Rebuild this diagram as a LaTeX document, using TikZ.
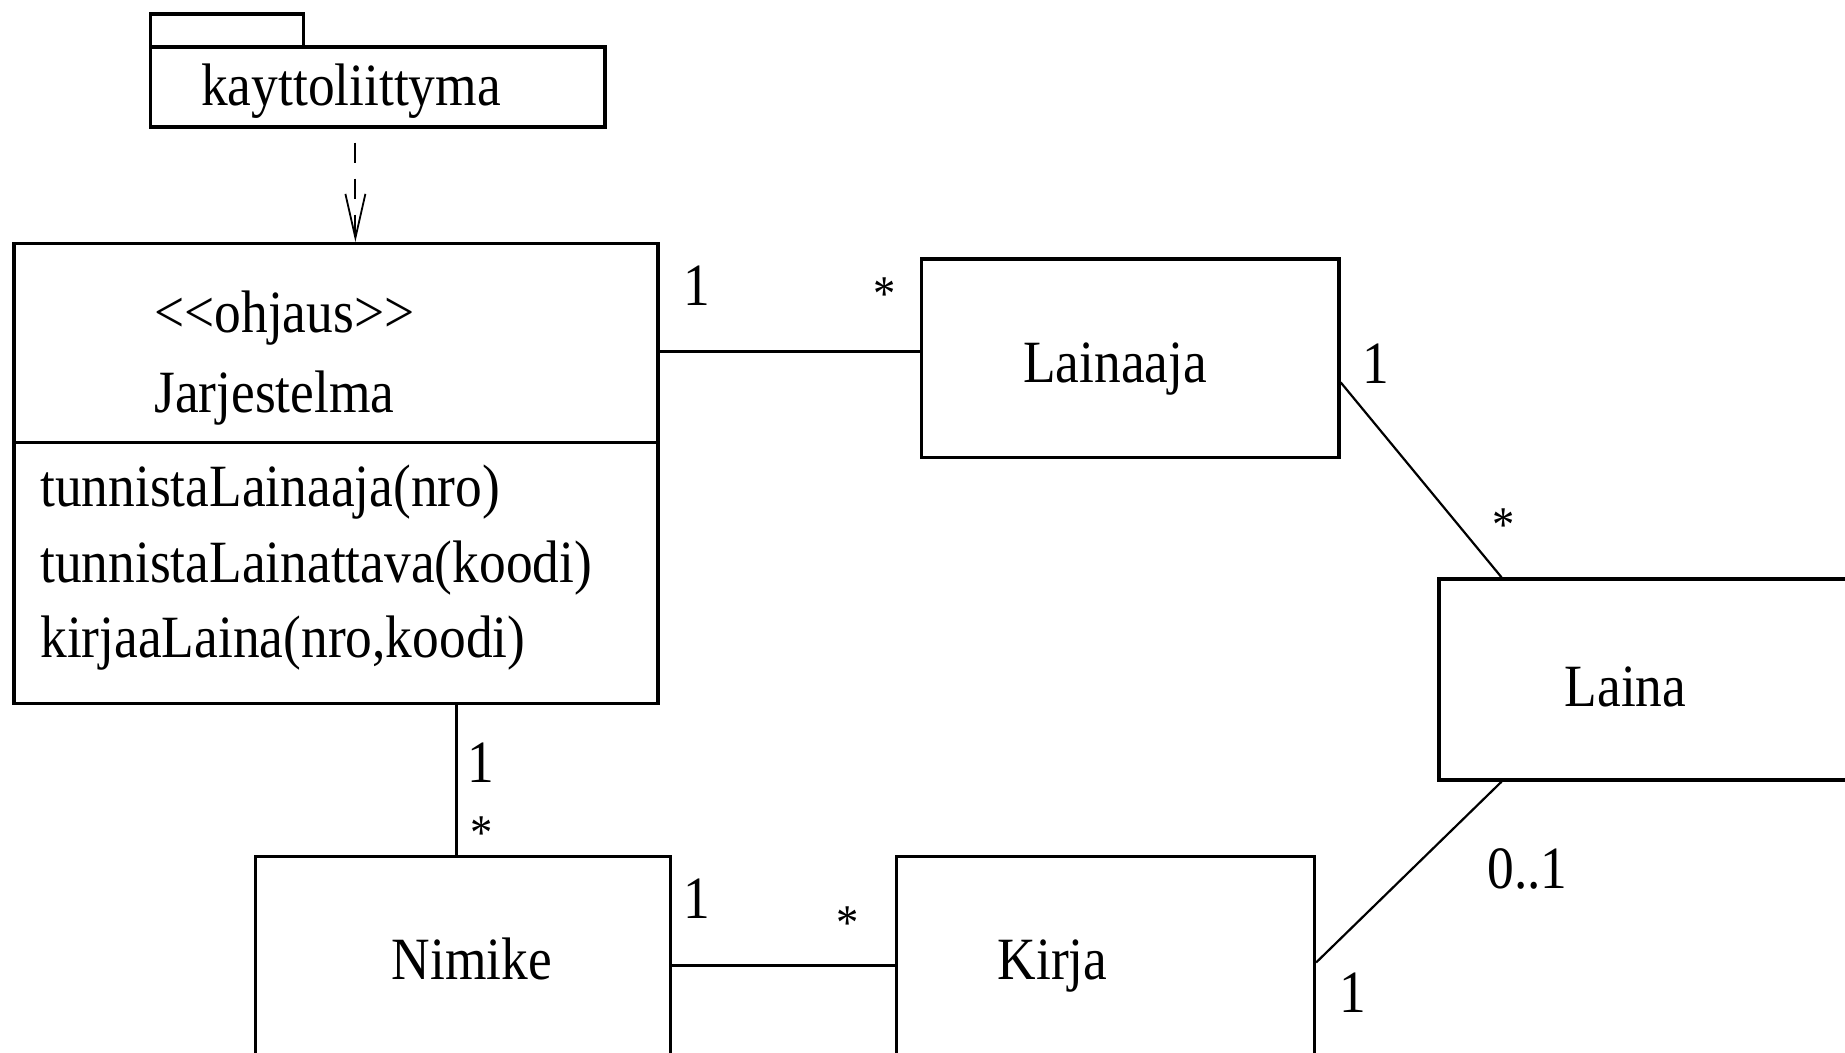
\documentclass[tikz,border=0pt]{standalone}
\usepackage{fontspec}
\setmainfont{Liberation Serif}[FakeStretch=0.89]
\usetikzlibrary{arrows.meta}
\begin{document}
\begin{tikzpicture}[x=0.5pt,y=-0.5pt,
  txt/.style={inner sep=0pt, anchor=base, font=\fontsize{30pt}{36pt}\selectfont},
  txtl/.style={txt, anchor=base west},
  star/.style={txt, font=\fontsize{25pt}{30pt}\selectfont},
  box/.style={draw, line width=1.7pt, rectangle, inner sep=0pt},
  assoc/.style={line width=1.5pt},
  diag/.style={line width=1.1pt},
  dep/.style={line width=1pt, dash pattern=on 10pt off 8pt,
    -{Straight Barb[length=22pt,width=10pt,line width=0.9pt]}},
]
\useasboundingbox (0,0) rectangle (1845,1053);
\clip (0,0) rectangle (1845,1053);

% package kayttoliittyma
\node[box, minimum width=76.5pt, minimum height=16.5pt] (pkgtab) at (227.1,30.5) {};
\node[box, minimum width=227.2pt, minimum height=40pt] (pkg) at (377.8,87) {};
\node[txt] (pkgname) at (351,106) {kayttoliittyma};

% control class Jarjestelma
\node[box, minimum width=322pt, minimum height=230pt] (jar) at (336,473.65) {};
\coordinate (jdiv) at (0,442.4);
\draw[line width=1.7pt] (jar.west |- jdiv) -- (jar.east |- jdiv);
\node[txtl] (stereo) at (154,333) {<{}<ohjaus>{}>};
\node[txtl] (jarname) at (154,412) {Jarjestelma};
\node[txtl] (op1) at (40,506) {tunnistaLainaaja(nro)};
\node[txtl] (op2) at (40,582) {tunnistaLainattava(koodi)};
\node[txtl] (op3) at (40,657) {kirjaaLaina(nro,koodi)};

% other classes
\node[box, minimum width=208.8pt, minimum height=99.4pt] (lainaaja) at (1130.2,358.3) {};
\node[txt] (lainaajaname) at (1115,382) {Lainaaja};
\node[box, minimum width=255.5pt, minimum height=100.5pt] (laina) at (1694.5,679.5) {};
\node[txt] (lainaname) at (1625.5,706) {Laina};
\node[box, minimum width=207.7pt, minimum height=146.7pt] (nimike) at (463,1003.3) {};
\node[txt] (nimikename) at (472,979) {Nimike};
\node[box, minimum width=208.9pt, minimum height=146.7pt] (kirja) at (1105.5,1003.3) {};
\node[txt] (kirjaname) at (1052.5,979) {Kirja};

% dependency
\coordinate (depx) at (355.4,0);
\draw[dep] (pkg.south -| depx) ++(0,14) -- (jar.north -| depx);

% associations
\coordinate (y1) at (0,351.8);
\draw[assoc] (jar.east |- y1) -- (lainaaja.west |- y1);
\coordinate (y2) at (0,382.4);
\coordinate (x2) at (1501.5,0);
\draw[diag] (lainaaja.east |- y2) -- (laina.north -| x2);
\coordinate (x3) at (456.6,0);
\draw[assoc] (jar.south -| x3) -- (nimike.north -| x3);
\coordinate (y4) at (0,965);
\draw[assoc] (nimike.east |- y4) -- (kirja.west |- y4);
\coordinate (y5) at (0,962.5);
\draw[diag] (kirja.east |- y5) -- (laina.south -| x2);

% multiplicities
\node[txt] (m1) at (696.6,306) {1};
\node[star] (m2) at (884.9,311) {*};
\node[txt] (m3) at (1375.6,383.6) {1};
\node[star] (m4) at (1503.8,541) {*};
\node[txt] (m5) at (481.3,782.5) {1};
\node[star] (m6) at (481.3,849) {*};
\node[txt] (m7) at (696.6,918) {1};
\node[star] (m8) at (847.2,939) {*};
\node[txt] (m9) at (1527.4,888.4) {0..1};
\node[txt] (m10) at (1353.2,1012) {1};
\end{tikzpicture}
\end{document}
